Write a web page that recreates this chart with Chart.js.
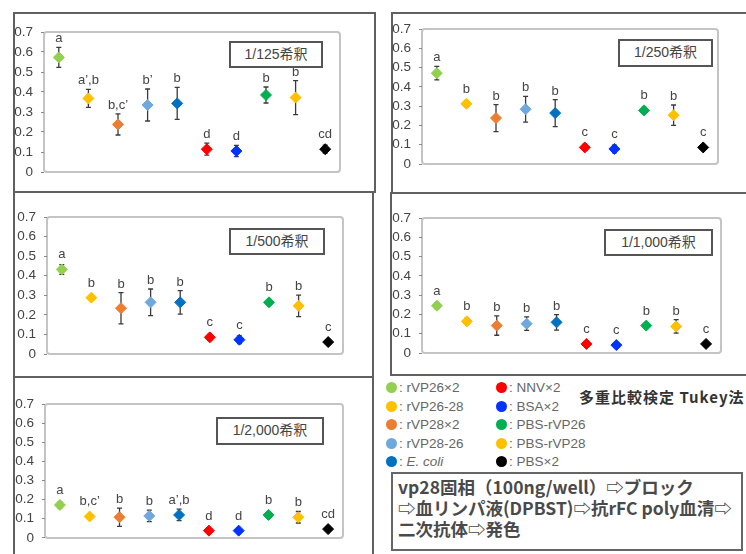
<!DOCTYPE html>
<html>
<head>
<meta charset="utf-8">
<script src="https://cdn.jsdelivr.net/npm/chart.js@4.4.1/dist/chart.umd.min.js"></script>
<style>
  body { margin: 0; background: #fff; width: 746px; height: 554px; overflow: hidden; position: relative; font-family: "Liberation Sans", Arial, sans-serif; }
  .panel { position: absolute; border: 2px solid #606060; box-sizing: border-box; }
  canvas { position: absolute; }
  .dil { position: absolute; border: 2px solid #555; background: #fff; box-sizing: border-box; font-size: 14px; color: #444; text-align: center; line-height: 23px; font-family: "Liberation Sans", "Noto Sans CJK JP", sans-serif; }
  .leg { position: absolute; font-size: 13.5px; color: #666; line-height: 18.5px; white-space: nowrap; }
  .leg span.dot { display: inline-block; width: 11px; height: 11px; border-radius: 50%; vertical-align: -1px; margin-right: 2px; }
  .tukey { position: absolute; left: 579px; top: 386px; font-size: 15px; font-weight: bold; color: #333; white-space: nowrap; font-family: "Noto Sans CJK JP", sans-serif; letter-spacing: 1px; }
  .proto { position: absolute; left: 391px; top: 472px; width: 352px; height: 79px; border: 2px solid #666; box-sizing: border-box; padding: 2px 0 0 5px; font-size: 17.5px; font-weight: bold; color: #4a4a4a; line-height: 21px; white-space: nowrap; font-family: "Noto Sans CJK JP", sans-serif; }
</style>
</head>
<body>

<div class="panel" style="left:13px;top:12px;width:363px;height:181px;"></div>
<div class="panel" style="left:391px;top:12px;width:370px;height:182px;"></div>
<div class="panel" style="left:13px;top:191px;width:361px;height:187px;"></div>
<div class="panel" style="left:390px;top:192px;width:370px;height:184px;"></div>
<div class="panel" style="left:13px;top:376px;width:361px;height:190px;"></div>

<canvas id="c125"></canvas>
<canvas id="c250"></canvas>
<canvas id="c500"></canvas>
<canvas id="c1000"></canvas>
<canvas id="c2000"></canvas>

<div class="leg" style="left:386px;top:379px;">
  <div><span class="dot" style="background:#92d050"></span>: rVP26×2</div>
  <div><span class="dot" style="background:#ffc000"></span>: rVP26-28</div>
  <div><span class="dot" style="background:#ed7d31"></span>: rVP28×2</div>
  <div><span class="dot" style="background:#6fa8dc"></span>: rVP28-26</div>
  <div><span class="dot" style="background:#0070c0"></span>: <i>E. coli</i></div>
</div>
<div class="leg" style="left:496px;top:379px;">
  <div><span class="dot" style="background:#ff0000"></span>: NNV×2</div>
  <div><span class="dot" style="background:#0033ff"></span>: BSA×2</div>
  <div><span class="dot" style="background:#00b050"></span>: PBS-rVP26</div>
  <div><span class="dot" style="background:#ffc000"></span>: PBS-rVP28</div>
  <div><span class="dot" style="background:#000000"></span>: PBS×2</div>
</div>
<div class="tukey">多重比較検定 Tukey法</div>
<div class="proto">
  <div>vp28固相（100ng/well）⇨ブロック</div>
  <div>⇨血リンパ液(DPBST)⇨抗rFC poly血清⇨</div>
  <div>二次抗体⇨発色</div>
</div>

<script>
// ================= Data =================
const groups = ['rVP26×2', 'rVP26-28', 'rVP28×2', 'rVP28-26', 'E. coli', 'NNV×2', 'BSA×2', 'PBS-rVP26', 'PBS-rVP28', 'PBS×2'];
const groupColors = ['#92d050', '#ffc000', '#ed7d31', '#6fa8dc', '#0070c0', '#ff0000', '#0033ff', '#00b050', '#ffc000', '#000000'];
const yTicks = [0, 0.1, 0.2, 0.3, 0.4, 0.5, 0.6, 0.7];

const dilutions = ['1/125希釈', '1/250希釈', '1/500希釈', '1/1,000希釈', '1/2,000希釈'];

const mean125 = [0.573, 0.368, 0.238, 0.335, 0.343, 0.114, 0.105, 0.385, 0.372, 0.114];
const err125  = [0.05, 0.045, 0.053, 0.08, 0.08, 0.03, 0.028, 0.04, 0.085, 0.02];
const sig125  = ['a', 'a’,b', 'b,c’', 'b’', 'b', 'd', 'd', 'b', 'b', 'cd'];

const mean250 = [0.471, 0.312, 0.238, 0.284, 0.264, 0.086, 0.078, 0.278, 0.253, 0.086];
const err250  = [0.035, 0.015, 0.07, 0.067, 0.07, 0.015, 0.02, 0.015, 0.053, 0.01];
const sig250  = ['a', 'b', 'b', 'b', 'b', 'c', 'c', 'b', 'b', 'c'];

const mean500 = [0.432, 0.288, 0.234, 0.264, 0.264, 0.085, 0.073, 0.264, 0.246, 0.061];
const err500  = [0.025, 0.01, 0.08, 0.068, 0.06, 0.015, 0.02, 0.01, 0.055, 0.01];
const sig500  = ['a', 'b', 'b', 'b', 'b', 'c', 'c', 'b', 'b', 'c'];

const mean1000 = [0.245, 0.164, 0.142, 0.152, 0.159, 0.047, 0.041, 0.142, 0.138, 0.047];
const err1000  = [0.015, 0.015, 0.05, 0.035, 0.04, 0.01, 0.01, 0.01, 0.035, 0.01];
const sig1000  = ['a', 'b', 'b', 'b', 'b', 'c', 'c', 'b', 'b', 'c'];

const mean2000 = [0.172, 0.112, 0.108, 0.115, 0.12, 0.038, 0.038, 0.12, 0.108, 0.046];
const err2000  = [0.015, 0.01, 0.048, 0.03, 0.03, 0.01, 0.01, 0.01, 0.03, 0.01];
const sig2000  = ['a', 'b,c’', 'b', 'b', 'a’,b', 'd', 'd', 'b', 'b', 'cd'];

// ================= Layout (page pixels) =================
// canvas box, wanted plot area, dilution label box
const panels = [
    { id: 'c125',  mean: mean125,  err: err125,  sig: sig125,  box: [13, 12, 363, 180],  area: [44, 32, 340, 172],  tag: [229, 41, 94, 27] },
    { id: 'c250',  mean: mean250,  err: err250,  sig: sig250,  box: [391, 12, 355, 181], area: [422, 29, 718, 164], tag: [618, 39, 95, 28] },
    { id: 'c500',  mean: mean500,  err: err500,  sig: sig500,  box: [13, 192, 360, 184], area: [47, 217, 343, 354], tag: [229, 228, 96, 27] },
    { id: 'c1000', mean: mean1000, err: err1000, sig: sig1000, box: [391, 193, 355, 182], area: [422, 218, 721, 353], tag: [604, 229, 109, 27] },
    { id: 'c2000', mean: mean2000, err: err2000, sig: sig2000, box: [13, 377, 360, 177], area: [45, 404, 343, 540], tag: [216, 417, 108, 28] }
];

// ================= Plugins =================
const plotFrame = {
    id: 'plotFrame',
    beforeDraw(chart) {
        const a = chart.chartArea, ctx = chart.ctx;
        ctx.save();
        ctx.strokeStyle = '#c4c4c4';
        ctx.lineWidth = 2;
        ctx.beginPath();
        ctx.roundRect(a.left, a.top, a.right - a.left, a.bottom - a.top, 3);
        ctx.stroke();
        ctx.restore();
    }
};

const errorBars = {
    id: 'errorBars',
    beforeDatasetsDraw(chart) {
        const ctx = chart.ctx, y = chart.scales.y;
        const ds = chart.data.datasets[0];
        const pts = chart.getDatasetMeta(0).data;
        ctx.save();
        ctx.strokeStyle = '#3a3a3a';
        ctx.lineWidth = 1.3;
        pts.forEach((p, i) => {
            const top = y.getPixelForValue(ds.data[i] + ds.errors[i]);
            const bot = y.getPixelForValue(ds.data[i] - ds.errors[i]);
            ctx.beginPath();
            ctx.moveTo(p.x, top); ctx.lineTo(p.x, bot);
            ctx.moveTo(p.x - 2.5, top); ctx.lineTo(p.x + 2.5, top);
            ctx.moveTo(p.x - 2.5, bot); ctx.lineTo(p.x + 2.5, bot);
            ctx.stroke();
        });
        ctx.restore();
    },
    afterDatasetsDraw(chart) {
        const ctx = chart.ctx, y = chart.scales.y;
        const ds = chart.data.datasets[0];
        const pts = chart.getDatasetMeta(0).data;
        ctx.save();
        ctx.fillStyle = '#444';
        ctx.font = '13px "Liberation Sans", Arial, sans-serif';
        ctx.textAlign = 'center';
        ctx.textBaseline = 'alphabetic';
        pts.forEach((p, i) => {
            const top = Math.min(y.getPixelForValue(ds.data[i] + ds.errors[i]), p.y - 6);
            ctx.fillText(ds.letters[i], p.x, top - 5);
        });
        ctx.restore();
    }
};

// ================= Charts =================
panels.forEach((pn, k) => {
    const cv = document.getElementById(pn.id);
    const [bx, by, bw, bh] = pn.box;
    const [ax0, ay0, ax1, ay1] = pn.area;
    cv.width = bw; cv.height = bh;
    cv.style.left = bx + 'px'; cv.style.top = by + 'px';

    const yWidth = ax0 - bx;

    new Chart(cv.getContext('2d'), {
        type: 'line',
        data: {
            labels: groups,
            datasets: [{
                data: pn.mean,
                errors: pn.err,
                letters: pn.sig,
                showLine: false,
                pointStyle: 'rectRot',
                pointRadius: 5.5,
                pointHoverRadius: 5.5,
                pointBorderWidth: 1,
                pointBackgroundColor: groupColors,
                pointBorderColor: groupColors
            }]
        },
        options: {
            responsive: false,
            animation: false,
            events: [],
            layout: { padding: { left: 0, top: ay0 - by, right: bx + bw - ax1, bottom: by + bh - ay1 } },
            plugins: { legend: { display: false }, tooltip: { enabled: false } },
            scales: {
                x: { display: false, offset: true },
                y: {
                    min: 0, max: 0.7,
                    afterBuildTicks: s => { s.ticks = yTicks.map(v => ({ value: v })); },
                    afterFit: s => { s.width = yWidth; },
                    border: { display: false },
                    grid: { drawOnChartArea: false, drawTicks: true, tickLength: 3, color: '#888' },
                    ticks: {
                        padding: 8,
                        color: '#444',
                        font: { size: 13.5, family: '"Liberation Sans", Arial, sans-serif' },
                        callback: v => v === 0 ? '0' : v.toFixed(1)
                    }
                }
            }
        },
        plugins: [plotFrame, errorBars]
    });

    const t = document.createElement('div');
    t.className = 'dil';
    t.textContent = dilutions[k];
    t.style.left = pn.tag[0] + 'px';
    t.style.top = pn.tag[1] + 'px';
    t.style.width = pn.tag[2] + 'px';
    t.style.height = pn.tag[3] + 'px';
    document.body.appendChild(t);
});
</script>
</body>
</html>
